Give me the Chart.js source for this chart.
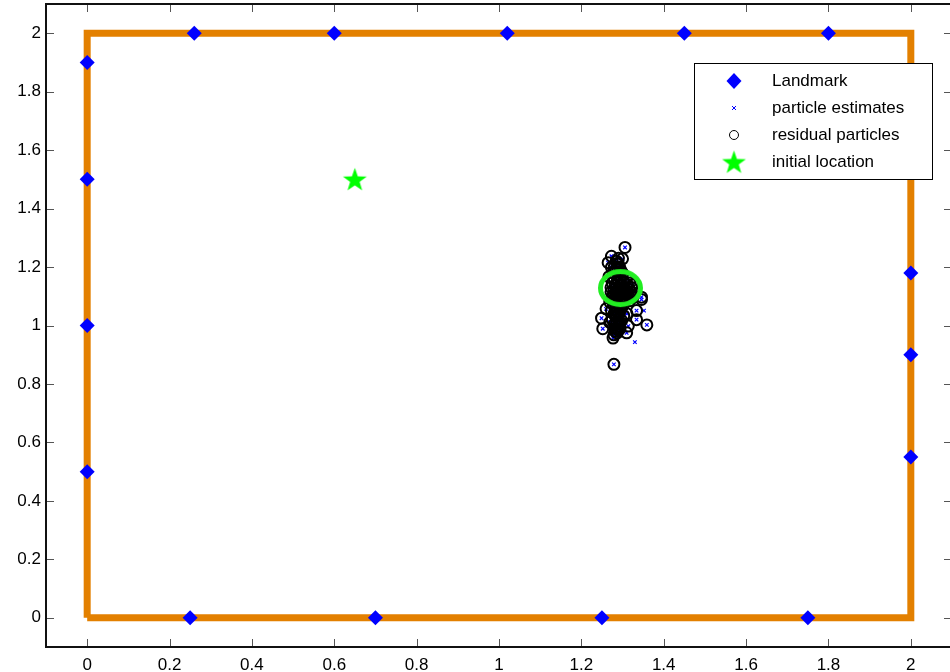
<!DOCTYPE html>
<html>
<head>
<meta charset="utf-8">
<script src="https://cdn.jsdelivr.net/npm/chart.js@4.4.1/dist/chart.umd.min.js"></script>
<style>
  html, body { margin: 0; padding: 0; background: #fff; overflow: hidden; }
  canvas { display: block; }
</style>
</head>
<body>
<canvas id="c" width="960" height="672"></canvas>
<script>
// Arena boundary (closed rectangle)
const boundaryX = [0, 2, 2, 0, 0];
const boundaryY = [0, 0, 2, 2, 0];

// Landmark positions
const landmarkX = [0.26, 0.60, 1.02, 1.45, 1.80, 0, 0, 0, 0, 2, 2, 2, 0.25, 0.70, 1.25, 1.75];
const landmarkY = [2, 2, 2, 2, 2, 1.9, 1.5, 1.0, 0.5, 1.18, 0.9, 0.55, 0, 0, 0, 0];

// Residual particles after resampling
const particleX = [
  // upper tail
  1.306, 1.273, 1.300, 1.273, 1.265, 1.286, 1.294, 1.277, 1.301, 1.267,
  1.283, 1.297, 1.280, 1.292, 1.285, 1.290, 1.288, 1.290, 1.290,
  // right-hand stragglers
  1.325, 1.325, 1.346,
  // dense core
  1.280, 1.295, 1.310,
  1.275, 1.290, 1.305, 1.318,
  1.272, 1.285, 1.298, 1.310, 1.322,
  1.272, 1.285, 1.298, 1.310, 1.322,
  1.275, 1.288, 1.300, 1.315,
  1.280, 1.293, 1.306,
  1.278, 1.290, 1.302,
  1.287, 1.302,
  1.282, 1.297, 1.312,
  1.279, 1.292, 1.304, 1.316,
  1.280, 1.294, 1.307, 1.318,
  1.282, 1.295, 1.308,
  1.285, 1.298,
  1.284, 1.296,
  // lower tail
  1.283, 1.296, 1.279, 1.292, 1.275, 1.290, 1.280, 1.293, 1.283, 1.287,
  1.288, 1.285, 1.286, 1.288, 1.290,
  1.260, 1.249, 1.252, 1.273, 1.289, 1.318, 1.334, 1.311, 1.346, 1.334,
  1.359, 1.314, 1.310, 1.294, 1.282, 1.277, 1.285, 1.269, 1.298, 1.282,
  1.303, 1.269, 1.282, 1.279, 1.279
];
const particleY = [
  1.267, 1.237, 1.228, 1.199, 1.215, 1.212, 1.195, 1.181, 1.177, 1.167,
  1.185, 1.185, 1.200, 1.200, 1.220, 1.175, 1.192, 1.210, 1.230,
  1.140, 1.096, 1.097,
  1.160, 1.160, 1.160,
  1.145, 1.145, 1.145, 1.145,
  1.130, 1.130, 1.130, 1.130, 1.130,
  1.115, 1.115, 1.115, 1.115, 1.115,
  1.100, 1.100, 1.100, 1.100,
  1.085, 1.085, 1.085,
  1.070, 1.070, 1.070,
  1.153, 1.153,
  1.138, 1.138, 1.138,
  1.123, 1.123, 1.123, 1.123,
  1.108, 1.108, 1.108, 1.108,
  1.093, 1.093, 1.093,
  1.078, 1.078,
  1.063, 1.063,
  1.055, 1.055, 1.040, 1.040, 1.020, 1.020, 1.005, 1.005, 0.990, 0.975,
  1.048, 1.030, 1.012, 0.998, 0.983,
  1.057, 1.025, 0.989, 1.051, 1.072, 1.085, 1.051, 1.040, 1.089, 1.020,
  1.002, 0.998, 0.975, 0.989, 0.980, 0.957, 1.006, 1.011, 1.017, 1.034,
  1.034, 1.080, 1.085, 0.968, 0.867
];

// Particle estimates that did not survive resampling
const strayEstimateX = [1.352, 1.330];
const strayEstimateY = [1.051, 0.943];

// Starting pose and final estimate
const initialX = [0.65];
const initialY = [1.5];
const estimateX = [1.295];
const estimateY = [1.128];

// Axis ticks
const xTicks = [0, 0.2, 0.4, 0.6, 0.8, 1, 1.2, 1.4, 1.6, 1.8, 2];
const yTicks = [0, 0.2, 0.4, 0.6, 0.8, 1, 1.2, 1.4, 1.6, 1.8, 2];

const zip = (xs, ys) => xs.map((x, i) => ({ x: x, y: ys[i] }));
const fmt = v => String(+Number(v).toFixed(1));

// Filled five-point star marker
function makeStar(r, color) {
  const c = document.createElement('canvas');
  const s = Math.ceil(r * 2 + 2);
  c.width = s; c.height = s;
  const g = c.getContext('2d');
  g.fillStyle = color;
  g.beginPath();
  for (let i = 0; i < 10; i++) {
    const rad = i % 2 === 0 ? r : r * 0.4;
    const a = -Math.PI / 2 + i * Math.PI / 5;
    const px = s / 2 + rad * Math.cos(a);
    const py = s / 2 + 1 + rad * Math.sin(a);
    if (i === 0) g.moveTo(px, py); else g.lineTo(px, py);
  }
  g.closePath();
  g.fill();
  return c;
}

// Hollow ellipse marker for the estimated location
function makeRing(rx, ry, lw, color) {
  const c = document.createElement('canvas');
  c.width = Math.ceil(2 * rx + lw + 2);
  c.height = Math.ceil(2 * ry + lw + 2);
  const g = c.getContext('2d');
  g.strokeStyle = color;
  g.lineWidth = lw;
  g.beginPath();
  g.ellipse(c.width / 2, c.height / 2, rx, ry, 0, 0, Math.PI * 2);
  g.stroke();
  return c;
}

const starImg = makeStar(12.5, '#00FF00');
const ringImg = makeRing(20, 16.5, 5, '#22EE22');
const legendStar = makeStar(12.5, '#00FF00');

const FONT = 'Liberation Sans, Arial, sans-serif';

// Frame with inward ticks on all four sides
const framePlugin = {
  id: 'frame',
  afterDatasetsDraw(chart) {
    const { ctx, chartArea: a, scales } = chart;
    ctx.save();
    ctx.strokeStyle = '#555';
    ctx.lineWidth = 1;
    const tl = 8;
    ctx.beginPath();
    xTicks.forEach(v => {
      const px = Math.round(scales.x.getPixelForValue(v)) + 0.5;
      ctx.moveTo(px, a.bottom); ctx.lineTo(px, a.bottom - tl);
      ctx.moveTo(px, a.top); ctx.lineTo(px, a.top + tl);
    });
    yTicks.forEach(v => {
      const py = Math.round(scales.y.getPixelForValue(v)) + 0.5;
      ctx.moveTo(a.left, py); ctx.lineTo(a.left + tl, py);
      ctx.moveTo(a.right, py); ctx.lineTo(a.right - tl, py);
    });
    ctx.stroke();
    ctx.strokeStyle = '#111';
    ctx.lineWidth = 2;
    ctx.strokeRect(a.left, a.top, a.right - a.left, a.bottom - a.top);
    ctx.restore();
  }
};

// Boxed legend in the upper right of the plot
const legendPlugin = {
  id: 'boxLegend',
  afterDraw(chart) {
    const { ctx } = chart;
    const bx = 694, by = 63, bw = 238, bh = 116;
    ctx.save();
    ctx.fillStyle = '#fff';
    ctx.fillRect(bx, by, bw, bh);
    ctx.strokeStyle = '#000';
    ctx.lineWidth = 1;
    ctx.strokeRect(bx + 0.5, by + 0.5, bw, bh);
    const symX = 734, textX = 772;
    const rows = [81, 108, 135, 162];
    const labels = ['Landmark', 'particle estimates', 'residual particles', 'initial location'];
    // diamond
    ctx.fillStyle = '#0000FF';
    ctx.beginPath();
    ctx.moveTo(symX, rows[0] - 8); ctx.lineTo(symX + 7.5, rows[0]);
    ctx.lineTo(symX, rows[0] + 8); ctx.lineTo(symX - 7.5, rows[0]);
    ctx.closePath(); ctx.fill();
    // small cross
    ctx.strokeStyle = '#0000FF';
    ctx.lineWidth = 1;
    ctx.beginPath();
    ctx.moveTo(symX - 2, rows[1] - 2); ctx.lineTo(symX + 2, rows[1] + 2);
    ctx.moveTo(symX + 2, rows[1] - 2); ctx.lineTo(symX - 2, rows[1] + 2);
    ctx.stroke();
    // open circle
    ctx.strokeStyle = '#000';
    ctx.beginPath();
    ctx.arc(symX, rows[2], 4.5, 0, Math.PI * 2);
    ctx.stroke();
    // star
    ctx.drawImage(legendStar, symX - legendStar.width / 2, rows[3] - legendStar.height / 2);
    ctx.fillStyle = '#000';
    ctx.font = '17px ' + FONT;
    ctx.textBaseline = 'middle';
    ctx.textAlign = 'left';
    labels.forEach((t, i) => ctx.fillText(t, textX, rows[i]));
    ctx.restore();
  }
};

new Chart(document.getElementById('c'), {
  type: 'scatter',
  data: {
    datasets: [
      {
        label: 'boundary',
        data: zip(boundaryX, boundaryY),
        showLine: true,
        borderColor: '#E38000',
        borderWidth: 7,
        pointRadius: 0,
        fill: false,
        borderJoinStyle: 'miter',
        order: 6
      },
      {
        label: 'Landmark',
        data: zip(landmarkX, landmarkY),
        pointStyle: 'rectRot',
        pointRadius: 7.5,
        backgroundColor: '#0000FF',
        borderColor: '#0000FF',
        borderWidth: 0,
        order: 5
      },
      {
        label: 'particle estimates',
        data: zip(particleX.concat(strayEstimateX), particleY.concat(strayEstimateY)),
        pointStyle: 'crossRot',
        pointRadius: 2.5,
        borderColor: '#0000FF',
        borderWidth: 1.2,
        order: 4
      },
      {
        label: 'residual particles',
        data: zip(particleX, particleY),
        pointStyle: 'circle',
        pointRadius: 5.5,
        backgroundColor: 'rgba(0,0,0,0)',
        borderColor: '#000',
        borderWidth: 2,
        order: 3
      },
      {
        label: 'initial location',
        data: zip(initialX, initialY),
        pointStyle: starImg,
        order: 2
      },
      {
        label: 'estimated location',
        data: zip(estimateX, estimateY),
        pointStyle: ringImg,
        order: 1
      }
    ]
  },
  options: {
    responsive: false,
    animation: false,
    devicePixelRatio: 1,
    events: [],
    layout: { autoPadding: false, padding: { top: 4, right: 8, left: 0, bottom: 0 } },
    plugins: {
      legend: { display: false },
      tooltip: { enabled: false }
    },
    scales: {
      x: {
        type: 'linear',
        min: -0.1,
        max: 2.1,
        afterBuildTicks: s => { s.ticks = xTicks.map(v => ({ value: v })); },
        afterFit: s => { s.height = 25; s.paddingLeft = 0; s.paddingRight = 0; },
        grid: { display: false, drawTicks: false },
        border: { display: false },
        ticks: { color: '#000', font: { family: FONT, size: 17 }, padding: 8, maxRotation: 0, autoSkip: false, callback: fmt }
      },
      y: {
        type: 'linear',
        min: -0.1,
        max: 2.1,
        afterBuildTicks: s => { s.ticks = yTicks.map(v => ({ value: v })); },
        afterFit: s => { s.width = 46; s.paddingTop = 0; s.paddingBottom = 0; },
        grid: { display: false, drawTicks: false },
        border: { display: false },
        ticks: { color: '#000', font: { family: FONT, size: 17 }, padding: 5, autoSkip: false, callback: fmt }
      }
    }
  },
  plugins: [framePlugin, legendPlugin]
});
</script>
</body>
</html>
